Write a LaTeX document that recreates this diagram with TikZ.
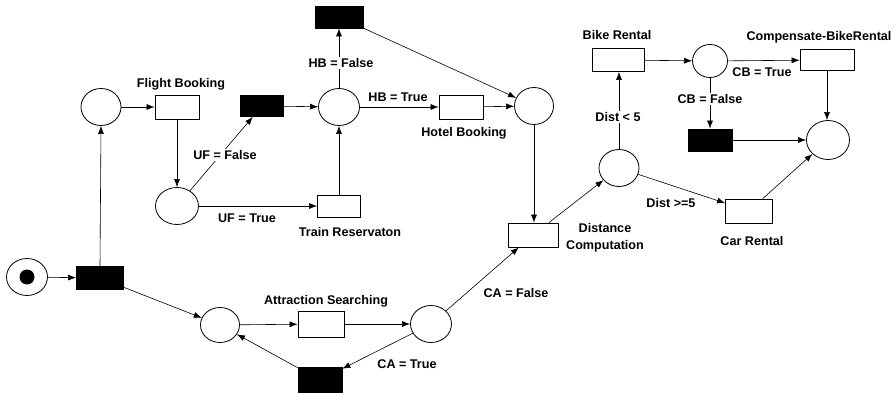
\documentclass[tikz,border=0pt]{standalone}
\usepackage{fontspec}
\setmainfont{Liberation Sans}
\usetikzlibrary{shapes.geometric,arrows.meta}
\tikzset{
  place/.style={ellipse,draw,line width=0.8pt,minimum width=40pt,minimum height=37pt,inner sep=0pt},
  trans/.style={rectangle,draw,line width=0.8pt,minimum width=45pt,minimum height=23pt,inner sep=0pt},
  silent/.style={trans,fill=black},
  lbl/.style={font=\fontsize{12.6}{17}\selectfont\bfseries,inner sep=1pt,fill=white,align=center},
  arc/.style={draw,line width=0.6pt,-{Latex[length=8pt,width=6pt]}}
}
\begin{document}
\begin{tikzpicture}[x=1pt,y=-1pt]
\useasboundingbox (0,0) rectangle (895,393);
% places
\node[place,minimum width=41pt] (p0) at (27,277) {};
\fill (p0.center) circle (7.5pt);
\node[place] (p1) at (101,107) {};
\node[place,minimum width=43pt] (p2) at (177,206) {};
\node[place,minimum width=41pt] (p3) at (339,107) {};
\node[place,minimum width=39pt] (p4) at (534,106) {};
\node[place] (p5) at (619,168) {};
\node[place,minimum width=35pt,minimum height=33pt] (p6) at (710,61) {};
\node[place,minimum width=43pt,minimum height=39pt] (p7) at (828,140) {};
\node[place,minimum width=39pt,minimum height=35pt] (p8) at (220,325) {};
\node[place,minimum width=41pt] (p9) at (431,324) {};
% transitions
\node[silent,minimum width=47pt] (t0) at (100,278) {};
\node[trans,minimum width=44pt,minimum height=24pt] (fb) at (177,107) {};
\node[silent,minimum width=43pt,minimum height=21pt] (tuf) at (262,106) {};
\node[trans,minimum width=43pt,minimum height=22pt] (tr) at (339,206) {};
\node[silent,minimum width=48pt,minimum height=22pt] (thb) at (339,17) {};
\node[trans,minimum width=44pt,minimum height=24pt] (hb) at (461,107) {};
\node[trans,minimum width=50pt,minimum height=24pt] (dc) at (533,235) {};
\node[trans,minimum width=52pt] (br) at (618,60) {};
\node[trans,minimum width=54pt,minimum height=21pt] (cbr) at (827,60) {};
\node[silent,minimum width=44pt,minimum height=22pt] (tcb) at (710,140) {};
\node[trans,minimum width=47pt,minimum height=24pt] (cr) at (749,211) {};
\node[trans,minimum width=46pt,minimum height=26pt] (as) at (321,324) {};
\node[silent,minimum width=44pt,minimum height=25pt] (tca) at (320,380) {};
% arcs
\path[arc] (p0) -- (t0);
\path[arc] (t0.north) -- (p1.south);
\path[arc] (t0) -- (p8);
\path[arc] (p1) -- (fb);
\path[arc] (fb) -- (p2);
\path[arc] (p2) -- (tuf);
\path[arc] (p2) -- (tr);
\path[arc] (tuf) -- (p3);
\path[arc] (tr) -- (p3);
\path[arc] (p3) -- (thb);
\path[arc] (p3) -- (hb);
\path[arc] (hb) -- (p4);
\path[arc] (thb) -- (p4);
\path[arc] (p4) -- (dc.north -| p4);
\path[arc] (dc) -- (p5);
\path[arc] (p5) -- (br.south -| p5);
\path[arc] (p5) -- (cr);
\path[arc] (br) -- (p6);
\path[arc] (p6) -- (cbr);
\path[arc] (p6) -- (tcb);
\path[arc] (cbr) -- (p7.north -| cbr);
\path[arc] (tcb) -- (p7);
\path[arc] (cr) -- (p7);
\path[arc] (p8) -- (as);
\path[arc] (as) -- (p9);
\path[arc] (p9) -- (tca);
\path[arc] (tca) -- (p8);
\path[arc] (p9) -- (dc);
% labels, drawn over the arcs they interrupt
\node[lbl] at (181,84) {Flight Booking};
\node[lbl] at (225,155) {UF = False};
\node[lbl] at (247,218) {UF = True};
\node[lbl] at (350,232) {Train Reservaton};
\node[lbl] at (341,63) {HB = False};
\node[lbl] at (398,97) {HB = True};
\node[lbl] at (464,133) {Hotel Booking};
\node[lbl] at (617,35) {Bike Rental};
\node[lbl] at (819,37) {Compensate-BikeRental};
\node[lbl] at (762,72) {CB = True};
\node[lbl] at (710,99) {CB = False};
\node[lbl] at (618,117) {Dist < 5};
\node[lbl] at (671,203) {Dist >=5};
\node[lbl] at (605,238) {Distance\\Computation};
\node[lbl] at (752,241) {Car Rental};
\node[lbl] at (326,301) {Attraction Searching};
\node[lbl] at (407,364) {CA = True};
\node[lbl] at (516,293) {CA = False};
\end{tikzpicture}
\end{document}
